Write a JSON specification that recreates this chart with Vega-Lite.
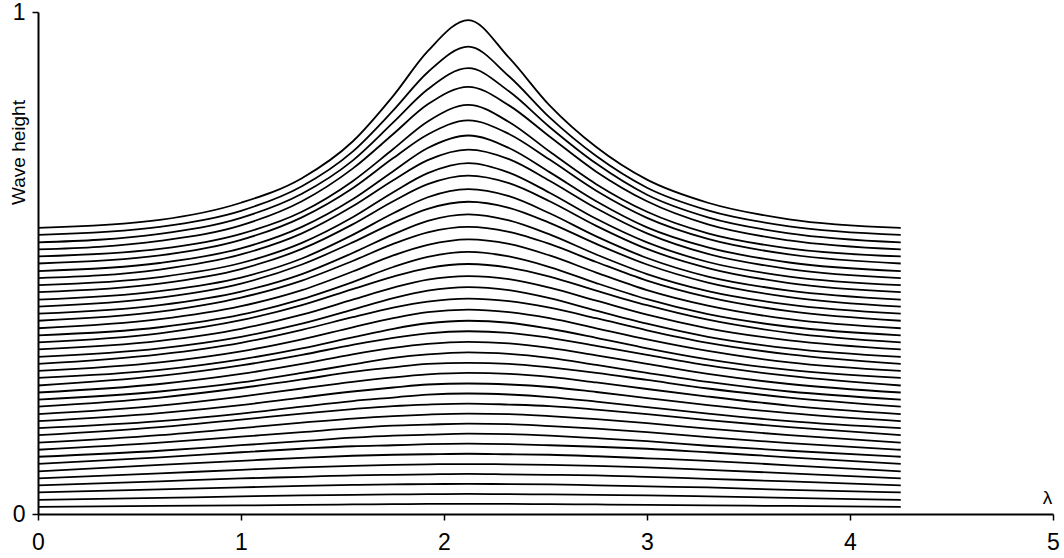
{
"$schema": "https://vega.github.io/schema/vega-lite/v6.json",
"width": 1015, "height": 502,
"autosize": "none",
"padding": {"left": 38, "top": 12, "right": 11, "bottom": 44},
"background": "white",
"config": {"view": {"stroke": null}, "font": "Liberation Sans"},
"datasets": {"curves": [
{"k":39,"x":0,"y":0.570},{"k":39,"x":0.6,"y":0.586},{"k":39,"x":1,"y":0.620},{"k":39,"x":1.3,"y":0.669},{"k":39,"x":1.55,"y":0.742},{"k":39,"x":1.75,"y":0.833},{"k":39,"x":1.92,"y":0.922},{"k":39,"x":2.12,"y":0.984},{"k":39,"x":2.32,"y":0.909},{"k":39,"x":2.52,"y":0.814},{"k":39,"x":2.75,"y":0.731},{"k":39,"x":3,"y":0.666},{"k":39,"x":3.3,"y":0.620},{"k":39,"x":3.7,"y":0.587},{"k":39,"x":4.25,"y":0.570},
{"k":38,"x":0,"y":0.556},{"k":38,"x":0.6,"y":0.572},{"k":38,"x":1,"y":0.604},{"k":38,"x":1.3,"y":0.653},{"k":38,"x":1.55,"y":0.722},{"k":38,"x":1.75,"y":0.804},{"k":38,"x":1.92,"y":0.880},{"k":38,"x":2.12,"y":0.931},{"k":38,"x":2.32,"y":0.872},{"k":38,"x":2.52,"y":0.790},{"k":38,"x":2.75,"y":0.713},{"k":38,"x":3,"y":0.650},{"k":38,"x":3.3,"y":0.605},{"k":38,"x":3.7,"y":0.573},{"k":38,"x":4.25,"y":0.556},
{"k":37,"x":0,"y":0.541},{"k":37,"x":0.6,"y":0.558},{"k":37,"x":1,"y":0.590},{"k":37,"x":1.3,"y":0.638},{"k":37,"x":1.55,"y":0.704},{"k":37,"x":1.75,"y":0.780},{"k":37,"x":1.92,"y":0.846},{"k":37,"x":2.12,"y":0.888},{"k":37,"x":2.32,"y":0.842},{"k":37,"x":2.52,"y":0.771},{"k":37,"x":2.75,"y":0.698},{"k":37,"x":3,"y":0.636},{"k":37,"x":3.3,"y":0.591},{"k":37,"x":3.7,"y":0.559},{"k":37,"x":4.25,"y":0.541},
{"k":36,"x":0,"y":0.527},{"k":36,"x":0.6,"y":0.544},{"k":36,"x":1,"y":0.575},{"k":36,"x":1.3,"y":0.623},{"k":36,"x":1.55,"y":0.688},{"k":36,"x":1.75,"y":0.757},{"k":36,"x":1.92,"y":0.816},{"k":36,"x":2.12,"y":0.851},{"k":36,"x":2.32,"y":0.814},{"k":36,"x":2.52,"y":0.752},{"k":36,"x":2.75,"y":0.682},{"k":36,"x":3,"y":0.623},{"k":36,"x":3.3,"y":0.577},{"k":36,"x":3.7,"y":0.545},{"k":36,"x":4.25,"y":0.527},
{"k":35,"x":0,"y":0.513},{"k":35,"x":0.6,"y":0.528},{"k":35,"x":1,"y":0.558},{"k":35,"x":1.3,"y":0.602},{"k":35,"x":1.55,"y":0.663},{"k":35,"x":1.75,"y":0.727},{"k":35,"x":1.92,"y":0.782},{"k":35,"x":2.12,"y":0.815},{"k":35,"x":2.32,"y":0.781},{"k":35,"x":2.52,"y":0.722},{"k":35,"x":2.75,"y":0.657},{"k":35,"x":3,"y":0.602},{"k":35,"x":3.3,"y":0.559},{"k":35,"x":3.7,"y":0.529},{"k":35,"x":4.25,"y":0.513},
{"k":34,"x":0,"y":0.499},{"k":34,"x":0.6,"y":0.515},{"k":34,"x":1,"y":0.546},{"k":34,"x":1.3,"y":0.591},{"k":34,"x":1.55,"y":0.649},{"k":34,"x":1.75,"y":0.709},{"k":34,"x":1.92,"y":0.756},{"k":34,"x":2.12,"y":0.784},{"k":34,"x":2.32,"y":0.757},{"k":34,"x":2.52,"y":0.706},{"k":34,"x":2.75,"y":0.644},{"k":34,"x":3,"y":0.590},{"k":34,"x":3.3,"y":0.548},{"k":34,"x":3.7,"y":0.517},{"k":34,"x":4.25,"y":0.499},
{"k":33,"x":0,"y":0.484},{"k":33,"x":0.6,"y":0.500},{"k":33,"x":1,"y":0.529},{"k":33,"x":1.3,"y":0.572},{"k":33,"x":1.55,"y":0.627},{"k":33,"x":1.75,"y":0.683},{"k":33,"x":1.92,"y":0.729},{"k":33,"x":2.12,"y":0.754},{"k":33,"x":2.32,"y":0.729},{"k":33,"x":2.52,"y":0.681},{"k":33,"x":2.75,"y":0.623},{"k":33,"x":3,"y":0.571},{"k":33,"x":3.3,"y":0.531},{"k":33,"x":3.7,"y":0.501},{"k":33,"x":4.25,"y":0.484},
{"k":32,"x":0,"y":0.470},{"k":32,"x":0.6,"y":0.487},{"k":32,"x":1,"y":0.517},{"k":32,"x":1.3,"y":0.559},{"k":32,"x":1.55,"y":0.613},{"k":32,"x":1.75,"y":0.665},{"k":32,"x":1.92,"y":0.705},{"k":32,"x":2.12,"y":0.726},{"k":32,"x":2.32,"y":0.707},{"k":32,"x":2.52,"y":0.664},{"k":32,"x":2.75,"y":0.609},{"k":32,"x":3,"y":0.559},{"k":32,"x":3.3,"y":0.518},{"k":32,"x":3.7,"y":0.488},{"k":32,"x":4.25,"y":0.470},
{"k":31,"x":0,"y":0.456},{"k":31,"x":0.6,"y":0.472},{"k":31,"x":1,"y":0.500},{"k":31,"x":1.3,"y":0.540},{"k":31,"x":1.55,"y":0.591},{"k":31,"x":1.75,"y":0.641},{"k":31,"x":1.92,"y":0.679},{"k":31,"x":2.12,"y":0.699},{"k":31,"x":2.32,"y":0.680},{"k":31,"x":2.52,"y":0.640},{"k":31,"x":2.75,"y":0.588},{"k":31,"x":3,"y":0.541},{"k":31,"x":3.3,"y":0.502},{"k":31,"x":3.7,"y":0.473},{"k":31,"x":4.25,"y":0.456},
{"k":30,"x":0,"y":0.442},{"k":30,"x":0.6,"y":0.459},{"k":30,"x":1,"y":0.488},{"k":30,"x":1.3,"y":0.528},{"k":30,"x":1.55,"y":0.577},{"k":30,"x":1.75,"y":0.623},{"k":30,"x":1.92,"y":0.657},{"k":30,"x":2.12,"y":0.674},{"k":30,"x":2.32,"y":0.659},{"k":30,"x":2.52,"y":0.623},{"k":30,"x":2.75,"y":0.574},{"k":30,"x":3,"y":0.528},{"k":30,"x":3.3,"y":0.490},{"k":30,"x":3.7,"y":0.460},{"k":30,"x":4.25,"y":0.442},
{"k":29,"x":0,"y":0.427},{"k":29,"x":0.6,"y":0.444},{"k":29,"x":1,"y":0.471},{"k":29,"x":1.3,"y":0.509},{"k":29,"x":1.55,"y":0.556},{"k":29,"x":1.75,"y":0.599},{"k":29,"x":1.92,"y":0.631},{"k":29,"x":2.12,"y":0.647},{"k":29,"x":2.32,"y":0.633},{"k":29,"x":2.52,"y":0.599},{"k":29,"x":2.75,"y":0.553},{"k":29,"x":3,"y":0.510},{"k":29,"x":3.3,"y":0.473},{"k":29,"x":3.7,"y":0.445},{"k":29,"x":4.25,"y":0.427},
{"k":28,"x":0,"y":0.413},{"k":28,"x":0.6,"y":0.431},{"k":28,"x":1,"y":0.459},{"k":28,"x":1.3,"y":0.497},{"k":28,"x":1.55,"y":0.541},{"k":28,"x":1.75,"y":0.580},{"k":28,"x":1.92,"y":0.608},{"k":28,"x":2.12,"y":0.622},{"k":28,"x":2.32,"y":0.610},{"k":28,"x":2.52,"y":0.580},{"k":28,"x":2.75,"y":0.538},{"k":28,"x":3,"y":0.497},{"k":28,"x":3.3,"y":0.461},{"k":28,"x":3.7,"y":0.432},{"k":28,"x":4.25,"y":0.413},
{"k":27,"x":0,"y":0.399},{"k":27,"x":0.6,"y":0.416},{"k":27,"x":1,"y":0.443},{"k":27,"x":1.3,"y":0.478},{"k":27,"x":1.55,"y":0.520},{"k":27,"x":1.75,"y":0.557},{"k":27,"x":1.92,"y":0.584},{"k":27,"x":2.12,"y":0.597},{"k":27,"x":2.32,"y":0.585},{"k":27,"x":2.52,"y":0.557},{"k":27,"x":2.75,"y":0.517},{"k":27,"x":3,"y":0.478},{"k":27,"x":3.3,"y":0.444},{"k":27,"x":3.7,"y":0.417},{"k":27,"x":4.25,"y":0.399},
{"k":26,"x":0,"y":0.385},{"k":26,"x":0.6,"y":0.403},{"k":26,"x":1,"y":0.431},{"k":26,"x":1.3,"y":0.465},{"k":26,"x":1.55,"y":0.504},{"k":26,"x":1.75,"y":0.538},{"k":26,"x":1.92,"y":0.561},{"k":26,"x":2.12,"y":0.572},{"k":26,"x":2.32,"y":0.562},{"k":26,"x":2.52,"y":0.538},{"k":26,"x":2.75,"y":0.502},{"k":26,"x":3,"y":0.465},{"k":26,"x":3.3,"y":0.432},{"k":26,"x":3.7,"y":0.404},{"k":26,"x":4.25,"y":0.385},
{"k":25,"x":0,"y":0.370},{"k":25,"x":0.6,"y":0.388},{"k":25,"x":1,"y":0.414},{"k":25,"x":1.3,"y":0.446},{"k":25,"x":1.55,"y":0.483},{"k":25,"x":1.75,"y":0.515},{"k":25,"x":1.92,"y":0.536},{"k":25,"x":2.12,"y":0.547},{"k":25,"x":2.32,"y":0.538},{"k":25,"x":2.52,"y":0.515},{"k":25,"x":2.75,"y":0.481},{"k":25,"x":3,"y":0.446},{"k":25,"x":3.3,"y":0.415},{"k":25,"x":3.7,"y":0.388},{"k":25,"x":4.25,"y":0.370},
{"k":24,"x":0,"y":0.356},{"k":24,"x":0.6,"y":0.372},{"k":24,"x":1,"y":0.397},{"k":24,"x":1.3,"y":0.428},{"k":24,"x":1.55,"y":0.462},{"k":24,"x":1.75,"y":0.492},{"k":24,"x":1.92,"y":0.512},{"k":24,"x":2.12,"y":0.522},{"k":24,"x":2.32,"y":0.513},{"k":24,"x":2.52,"y":0.492},{"k":24,"x":2.75,"y":0.460},{"k":24,"x":3,"y":0.428},{"k":24,"x":3.3,"y":0.398},{"k":24,"x":3.7,"y":0.373},{"k":24,"x":4.25,"y":0.356},
{"k":23,"x":0,"y":0.342},{"k":23,"x":0.6,"y":0.360},{"k":23,"x":1,"y":0.386},{"k":23,"x":1.3,"y":0.416},{"k":23,"x":1.55,"y":0.448},{"k":23,"x":1.75,"y":0.473},{"k":23,"x":1.92,"y":0.490},{"k":23,"x":2.12,"y":0.498},{"k":23,"x":2.32,"y":0.491},{"k":23,"x":2.52,"y":0.473},{"k":23,"x":2.75,"y":0.445},{"k":23,"x":3,"y":0.416},{"k":23,"x":3.3,"y":0.387},{"k":23,"x":3.7,"y":0.361},{"k":23,"x":4.25,"y":0.342},
{"k":22,"x":0,"y":0.328},{"k":22,"x":0.6,"y":0.345},{"k":22,"x":1,"y":0.369},{"k":22,"x":1.3,"y":0.397},{"k":22,"x":1.55,"y":0.427},{"k":22,"x":1.75,"y":0.451},{"k":22,"x":1.92,"y":0.467},{"k":22,"x":2.12,"y":0.474},{"k":22,"x":2.32,"y":0.468},{"k":22,"x":2.52,"y":0.451},{"k":22,"x":2.75,"y":0.425},{"k":22,"x":3,"y":0.397},{"k":22,"x":3.3,"y":0.370},{"k":22,"x":3.7,"y":0.346},{"k":22,"x":4.25,"y":0.328},
{"k":21,"x":0,"y":0.313},{"k":21,"x":0.6,"y":0.330},{"k":21,"x":1,"y":0.353},{"k":21,"x":1.3,"y":0.379},{"k":21,"x":1.55,"y":0.407},{"k":21,"x":1.75,"y":0.430},{"k":21,"x":1.92,"y":0.445},{"k":21,"x":2.12,"y":0.452},{"k":21,"x":2.32,"y":0.446},{"k":21,"x":2.52,"y":0.430},{"k":21,"x":2.75,"y":0.405},{"k":21,"x":3,"y":0.379},{"k":21,"x":3.3,"y":0.353},{"k":21,"x":3.7,"y":0.330},{"k":21,"x":4.25,"y":0.313},
{"k":20,"x":0,"y":0.299},{"k":20,"x":0.6,"y":0.318},{"k":20,"x":1,"y":0.341},{"k":20,"x":1.3,"y":0.367},{"k":20,"x":1.55,"y":0.392},{"k":20,"x":1.75,"y":0.411},{"k":20,"x":1.92,"y":0.423},{"k":20,"x":2.12,"y":0.429},{"k":20,"x":2.32,"y":0.424},{"k":20,"x":2.52,"y":0.411},{"k":20,"x":2.75,"y":0.390},{"k":20,"x":3,"y":0.366},{"k":20,"x":3.3,"y":0.341},{"k":20,"x":3.7,"y":0.318},{"k":20,"x":4.25,"y":0.299},
{"k":19,"x":0,"y":0.285},{"k":19,"x":0.6,"y":0.302},{"k":19,"x":1,"y":0.324},{"k":19,"x":1.3,"y":0.348},{"k":19,"x":1.55,"y":0.372},{"k":19,"x":1.75,"y":0.390},{"k":19,"x":1.92,"y":0.402},{"k":19,"x":2.12,"y":0.407},{"k":19,"x":2.32,"y":0.402},{"k":19,"x":2.52,"y":0.390},{"k":19,"x":2.75,"y":0.370},{"k":19,"x":3,"y":0.348},{"k":19,"x":3.3,"y":0.325},{"k":19,"x":3.7,"y":0.302},{"k":19,"x":4.25,"y":0.285},
{"k":18,"x":0,"y":0.271},{"k":18,"x":0.6,"y":0.287},{"k":18,"x":1,"y":0.308},{"k":18,"x":1.3,"y":0.330},{"k":18,"x":1.55,"y":0.352},{"k":18,"x":1.75,"y":0.369},{"k":18,"x":1.92,"y":0.380},{"k":18,"x":2.12,"y":0.385},{"k":18,"x":2.32,"y":0.381},{"k":18,"x":2.52,"y":0.369},{"k":18,"x":2.75,"y":0.351},{"k":18,"x":3,"y":0.330},{"k":18,"x":3.3,"y":0.308},{"k":18,"x":3.7,"y":0.287},{"k":18,"x":4.25,"y":0.271},
{"k":17,"x":0,"y":0.256},{"k":17,"x":0.6,"y":0.275},{"k":17,"x":1,"y":0.296},{"k":17,"x":1.3,"y":0.317},{"k":17,"x":1.55,"y":0.337},{"k":17,"x":1.75,"y":0.351},{"k":17,"x":1.92,"y":0.360},{"k":17,"x":2.12,"y":0.364},{"k":17,"x":2.32,"y":0.361},{"k":17,"x":2.52,"y":0.351},{"k":17,"x":2.75,"y":0.335},{"k":17,"x":3,"y":0.317},{"k":17,"x":3.3,"y":0.296},{"k":17,"x":3.7,"y":0.275},{"k":17,"x":4.25,"y":0.256},
{"k":16,"x":0,"y":0.242},{"k":16,"x":0.6,"y":0.259},{"k":16,"x":1,"y":0.279},{"k":16,"x":1.3,"y":0.299},{"k":16,"x":1.55,"y":0.318},{"k":16,"x":1.75,"y":0.331},{"k":16,"x":1.92,"y":0.339},{"k":16,"x":2.12,"y":0.343},{"k":16,"x":2.32,"y":0.340},{"k":16,"x":2.52,"y":0.331},{"k":16,"x":2.75,"y":0.316},{"k":16,"x":3,"y":0.299},{"k":16,"x":3.3,"y":0.279},{"k":16,"x":3.7,"y":0.259},{"k":16,"x":4.25,"y":0.242},
{"k":15,"x":0,"y":0.228},{"k":15,"x":0.6,"y":0.244},{"k":15,"x":1,"y":0.262},{"k":15,"x":1.3,"y":0.281},{"k":15,"x":1.55,"y":0.298},{"k":15,"x":1.75,"y":0.311},{"k":15,"x":1.92,"y":0.318},{"k":15,"x":2.12,"y":0.322},{"k":15,"x":2.32,"y":0.319},{"k":15,"x":2.52,"y":0.311},{"k":15,"x":2.75,"y":0.297},{"k":15,"x":3,"y":0.281},{"k":15,"x":3.3,"y":0.263},{"k":15,"x":3.7,"y":0.244},{"k":15,"x":4.25,"y":0.228},
{"k":14,"x":0,"y":0.214},{"k":14,"x":0.6,"y":0.232},{"k":14,"x":1,"y":0.251},{"k":14,"x":1.3,"y":0.268},{"k":14,"x":1.55,"y":0.283},{"k":14,"x":1.75,"y":0.292},{"k":14,"x":1.92,"y":0.299},{"k":14,"x":2.12,"y":0.301},{"k":14,"x":2.32,"y":0.299},{"k":14,"x":2.52,"y":0.292},{"k":14,"x":2.75,"y":0.281},{"k":14,"x":3,"y":0.267},{"k":14,"x":3.3,"y":0.250},{"k":14,"x":3.7,"y":0.232},{"k":14,"x":4.25,"y":0.214},
{"k":13,"x":0,"y":0.199},{"k":13,"x":0.6,"y":0.216},{"k":13,"x":1,"y":0.234},{"k":13,"x":1.3,"y":0.250},{"k":13,"x":1.55,"y":0.263},{"k":13,"x":1.75,"y":0.272},{"k":13,"x":1.92,"y":0.278},{"k":13,"x":2.12,"y":0.281},{"k":13,"x":2.32,"y":0.279},{"k":13,"x":2.52,"y":0.273},{"k":13,"x":2.75,"y":0.262},{"k":13,"x":3,"y":0.249},{"k":13,"x":3.3,"y":0.234},{"k":13,"x":3.7,"y":0.216},{"k":13,"x":4.25,"y":0.199},
{"k":12,"x":0,"y":0.185},{"k":12,"x":0.6,"y":0.201},{"k":12,"x":1,"y":0.217},{"k":12,"x":1.3,"y":0.232},{"k":12,"x":1.55,"y":0.244},{"k":12,"x":1.75,"y":0.252},{"k":12,"x":1.92,"y":0.258},{"k":12,"x":2.12,"y":0.260},{"k":12,"x":2.32,"y":0.258},{"k":12,"x":2.52,"y":0.253},{"k":12,"x":2.75,"y":0.243},{"k":12,"x":3,"y":0.231},{"k":12,"x":3.3,"y":0.217},{"k":12,"x":3.7,"y":0.201},{"k":12,"x":4.25,"y":0.185},
{"k":11,"x":0,"y":0.171},{"k":11,"x":0.6,"y":0.185},{"k":11,"x":1,"y":0.200},{"k":11,"x":1.3,"y":0.214},{"k":11,"x":1.55,"y":0.225},{"k":11,"x":1.75,"y":0.232},{"k":11,"x":1.92,"y":0.238},{"k":11,"x":2.12,"y":0.240},{"k":11,"x":2.32,"y":0.238},{"k":11,"x":2.52,"y":0.233},{"k":11,"x":2.75,"y":0.224},{"k":11,"x":3,"y":0.213},{"k":11,"x":3.3,"y":0.200},{"k":11,"x":3.7,"y":0.185},{"k":11,"x":4.25,"y":0.171},
{"k":10,"x":0,"y":0.157},{"k":10,"x":0.6,"y":0.173},{"k":10,"x":1,"y":0.188},{"k":10,"x":1.3,"y":0.200},{"k":10,"x":1.55,"y":0.209},{"k":10,"x":1.75,"y":0.215},{"k":10,"x":1.92,"y":0.218},{"k":10,"x":2.12,"y":0.220},{"k":10,"x":2.32,"y":0.218},{"k":10,"x":2.52,"y":0.215},{"k":10,"x":2.75,"y":0.208},{"k":10,"x":3,"y":0.199},{"k":10,"x":3.3,"y":0.187},{"k":10,"x":3.7,"y":0.173},{"k":10,"x":4.25,"y":0.157},
{"k":9,"x":0,"y":0.142},{"k":9,"x":0.6,"y":0.157},{"k":9,"x":1,"y":0.171},{"k":9,"x":1.3,"y":0.182},{"k":9,"x":1.55,"y":0.190},{"k":9,"x":1.75,"y":0.195},{"k":9,"x":1.92,"y":0.198},{"k":9,"x":2.12,"y":0.200},{"k":9,"x":2.32,"y":0.199},{"k":9,"x":2.52,"y":0.195},{"k":9,"x":2.75,"y":0.189},{"k":9,"x":3,"y":0.181},{"k":9,"x":3.3,"y":0.170},{"k":9,"x":3.7,"y":0.157},{"k":9,"x":4.25,"y":0.142},
{"k":8,"x":0,"y":0.128},{"k":8,"x":0.6,"y":0.142},{"k":8,"x":1,"y":0.154},{"k":8,"x":1.3,"y":0.163},{"k":8,"x":1.55,"y":0.171},{"k":8,"x":1.75,"y":0.176},{"k":8,"x":1.92,"y":0.178},{"k":8,"x":2.12,"y":0.180},{"k":8,"x":2.32,"y":0.179},{"k":8,"x":2.52,"y":0.175},{"k":8,"x":2.75,"y":0.170},{"k":8,"x":3,"y":0.163},{"k":8,"x":3.3,"y":0.153},{"k":8,"x":3.7,"y":0.141},{"k":8,"x":4.25,"y":0.128},
{"k":7,"x":0,"y":0.114},{"k":7,"x":0.6,"y":0.126},{"k":7,"x":1,"y":0.137},{"k":7,"x":1.3,"y":0.145},{"k":7,"x":1.55,"y":0.152},{"k":7,"x":1.75,"y":0.156},{"k":7,"x":1.92,"y":0.158},{"k":7,"x":2.12,"y":0.160},{"k":7,"x":2.32,"y":0.159},{"k":7,"x":2.52,"y":0.156},{"k":7,"x":2.75,"y":0.151},{"k":7,"x":3,"y":0.145},{"k":7,"x":3.3,"y":0.136},{"k":7,"x":3.7,"y":0.126},{"k":7,"x":4.25,"y":0.114},
{"k":6,"x":0,"y":0.100},{"k":6,"x":0.6,"y":0.113},{"k":6,"x":1,"y":0.123},{"k":6,"x":1.3,"y":0.130},{"k":6,"x":1.55,"y":0.135},{"k":6,"x":1.75,"y":0.137},{"k":6,"x":1.92,"y":0.139},{"k":6,"x":2.12,"y":0.140},{"k":6,"x":2.32,"y":0.139},{"k":6,"x":2.52,"y":0.137},{"k":6,"x":2.75,"y":0.134},{"k":6,"x":3,"y":0.130},{"k":6,"x":3.3,"y":0.123},{"k":6,"x":3.7,"y":0.113},{"k":6,"x":4.25,"y":0.100},
{"k":5,"x":0,"y":0.085},{"k":5,"x":0.6,"y":0.098},{"k":5,"x":1,"y":0.106},{"k":5,"x":1.3,"y":0.112},{"k":5,"x":1.55,"y":0.116},{"k":5,"x":1.75,"y":0.118},{"k":5,"x":1.92,"y":0.119},{"k":5,"x":2.12,"y":0.120},{"k":5,"x":2.32,"y":0.119},{"k":5,"x":2.52,"y":0.118},{"k":5,"x":2.75,"y":0.115},{"k":5,"x":3,"y":0.111},{"k":5,"x":3.3,"y":0.106},{"k":5,"x":3.7,"y":0.097},{"k":5,"x":4.25,"y":0.085},
{"k":4,"x":0,"y":0.071},{"k":4,"x":0.6,"y":0.081},{"k":4,"x":1,"y":0.088},{"k":4,"x":1.3,"y":0.093},{"k":4,"x":1.55,"y":0.096},{"k":4,"x":1.75,"y":0.098},{"k":4,"x":1.92,"y":0.099},{"k":4,"x":2.12,"y":0.0995},{"k":4,"x":2.32,"y":0.099},{"k":4,"x":2.52,"y":0.098},{"k":4,"x":2.75,"y":0.096},{"k":4,"x":3,"y":0.093},{"k":4,"x":3.3,"y":0.088},{"k":4,"x":3.7,"y":0.081},{"k":4,"x":4.25,"y":0.071},
{"k":3,"x":0,"y":0.057},{"k":3,"x":0.6,"y":0.065},{"k":3,"x":1,"y":0.071},{"k":3,"x":1.3,"y":0.074},{"k":3,"x":1.55,"y":0.077},{"k":3,"x":1.75,"y":0.078},{"k":3,"x":1.92,"y":0.079},{"k":3,"x":2.12,"y":0.080},{"k":3,"x":2.32,"y":0.079},{"k":3,"x":2.52,"y":0.078},{"k":3,"x":2.75,"y":0.077},{"k":3,"x":3,"y":0.074},{"k":3,"x":3.3,"y":0.070},{"k":3,"x":3.7,"y":0.065},{"k":3,"x":4.25,"y":0.057},
{"k":2,"x":0,"y":0.043},{"k":2,"x":0.6,"y":0.049},{"k":2,"x":1,"y":0.053},{"k":2,"x":1.3,"y":0.056},{"k":2,"x":1.55,"y":0.058},{"k":2,"x":1.75,"y":0.059},{"k":2,"x":1.92,"y":0.0595},{"k":2,"x":2.12,"y":0.060},{"k":2,"x":2.32,"y":0.0595},{"k":2,"x":2.52,"y":0.059},{"k":2,"x":2.75,"y":0.057},{"k":2,"x":3,"y":0.055},{"k":2,"x":3.3,"y":0.053},{"k":2,"x":3.7,"y":0.048},{"k":2,"x":4.25,"y":0.043},
{"k":1,"x":0,"y":0.028},{"k":1,"x":0.6,"y":0.032},{"k":1,"x":1,"y":0.035},{"k":1,"x":1.3,"y":0.037},{"k":1,"x":1.55,"y":0.038},{"k":1,"x":1.75,"y":0.039},{"k":1,"x":1.92,"y":0.0395},{"k":1,"x":2.12,"y":0.040},{"k":1,"x":2.32,"y":0.0395},{"k":1,"x":2.52,"y":0.039},{"k":1,"x":2.75,"y":0.038},{"k":1,"x":3,"y":0.037},{"k":1,"x":3.3,"y":0.035},{"k":1,"x":3.7,"y":0.032},{"k":1,"x":4.25,"y":0.028},
{"k":0,"x":0,"y":0.014},{"k":0,"x":0.6,"y":0.016},{"k":0,"x":1,"y":0.017},{"k":0,"x":1.3,"y":0.018},{"k":0,"x":1.55,"y":0.019},{"k":0,"x":1.75,"y":0.0195},{"k":0,"x":1.92,"y":0.020},{"k":0,"x":2.12,"y":0.020},{"k":0,"x":2.32,"y":0.020},{"k":0,"x":2.52,"y":0.0195},{"k":0,"x":2.75,"y":0.019},{"k":0,"x":3,"y":0.018},{"k":0,"x":3.3,"y":0.017},{"k":0,"x":3.7,"y":0.016},{"k":0,"x":4.25,"y":0.014}
]},
"data": {"name": "curves"},
"mark": {"type": "line", "interpolate": "monotone", "stroke": "black", "strokeWidth": 1.8},
"encoding": {
  "x": {"field": "x", "type": "quantitative",
        "scale": {"domain": [0, 5], "nice": false, "zero": false},
        "axis": {"values": [0, 1, 2, 3, 4, 5], "format": "d", "grid": false,
                 "domainColor": "black", "domainWidth": 2,
                 "tickColor": "black", "tickSize": 6, "tickWidth": 1.5,
                 "labelFontSize": 23, "labelColor": "black", "labelPadding": 11, "labelFlush": false,
                 "title": "λ", "titleX": 1009, "titleY": -7, "titleAlign": "center", "titleBaseline": "bottom",
                 "titleFontSize": 19, "titleFontWeight": "normal", "titleColor": "black"}},
  "y": {"field": "y", "type": "quantitative",
        "scale": {"domain": [0, 1], "nice": false, "zero": true},
        "axis": {"values": [0, 1], "format": "d", "grid": false,
                 "domainColor": "black", "domainWidth": 2,
                 "tickColor": "black", "tickSize": 6, "tickWidth": 1.5,
                 "labelFontSize": 23, "labelColor": "black", "labelPadding": 7, "labelFlush": false,
                 "title": "Wave height", "titleX": -20, "titleY": 140, "titleAngle": -90,
                 "titleAlign": "center", "titleBaseline": "middle",
                 "titleFontSize": 19, "titleFontWeight": "normal", "titleColor": "black"}},
  "detail": {"field": "k", "type": "nominal"}
}
}
